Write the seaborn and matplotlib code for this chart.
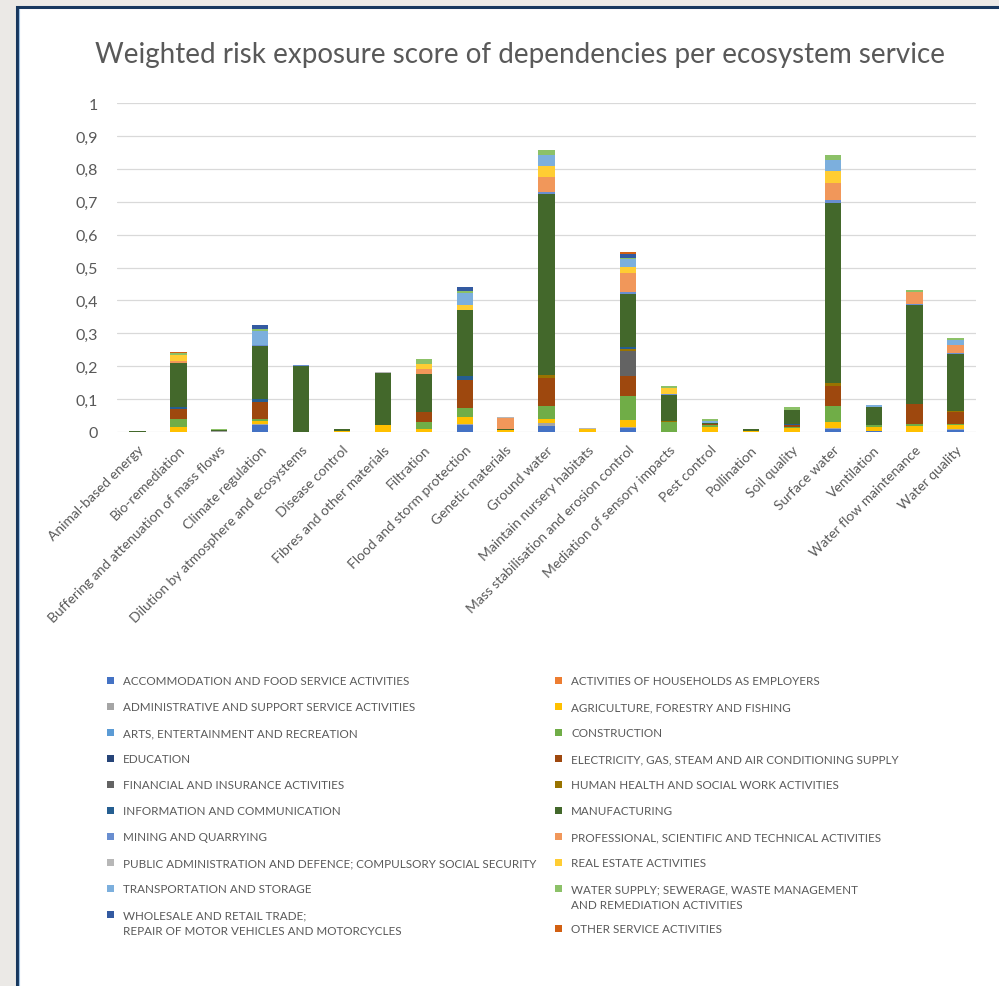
import numpy as np
import pandas as pd
import matplotlib
matplotlib.use("Agg")
import matplotlib.pyplot as plt
from matplotlib.patches import Rectangle
import seaborn as sns

# ---------------- data ----------------
services = [
    "Animal-based energy", "Bio-remediation", "Buffering and attenuation of mass flows",
    "Climate regulation", "Dilution by atmosphere and ecosystems", "Disease control",
    "Fibres and other materials", "Filtration", "Flood and storm protection",
    "Genetic materials", "Ground water", "Maintain nursery habitats",
    "Mass stabilisation and erosion control", "Mediation of sensory impacts",
    "Pest control", "Pollination", "Soil quality", "Surface water", "Ventilation",
    "Water flow maintenance", "Water quality",
]

sectors = [
    "ACCOMMODATION AND FOOD SERVICE ACTIVITIES",
    "ACTIVITIES OF HOUSEHOLDS AS EMPLOYERS",
    "ADMINISTRATIVE AND SUPPORT SERVICE ACTIVITIES",
    "AGRICULTURE, FORESTRY AND FISHING",
    "ARTS, ENTERTAINMENT AND RECREATION",
    "CONSTRUCTION",
    "EDUCATION",
    "ELECTRICITY, GAS, STEAM AND AIR CONDITIONING SUPPLY",
    "FINANCIAL AND INSURANCE ACTIVITIES",
    "HUMAN HEALTH AND SOCIAL WORK ACTIVITIES",
    "INFORMATION AND COMMUNICATION",
    "MANUFACTURING",
    "MINING AND QUARRYING",
    "PROFESSIONAL, SCIENTIFIC AND TECHNICAL ACTIVITIES",
    "PUBLIC ADMINISTRATION AND DEFENCE; COMPULSORY SOCIAL SECURITY",
    "REAL ESTATE ACTIVITIES",
    "TRANSPORTATION AND STORAGE",
    "WATER SUPPLY; SEWERAGE, WASTE MANAGEMENT\nAND REMEDIATION ACTIVITIES",
    "WHOLESALE AND RETAIL TRADE;\nREPAIR OF MOTOR VEHICLES AND MOTORCYCLES",
    "OTHER SERVICE ACTIVITIES",
]

sector_colors = [
    "#4472C4", "#ED7D31", "#A5A5A5", "#FFC000", "#5B9BD5", "#70AD47", "#264478",
    "#9E480E", "#636363", "#997300", "#255E91", "#43682B", "#698ED0", "#F1975A",
    "#B7B7B7", "#FFCD33", "#7CAFDD", "#8CC168", "#335AA1", "#D26012",
]

# values per sector, one entry per ecosystem service (same order as `services`)
accommodation = [0, 0, 0, 0.021, 0, 0, 0, 0, 0.022, 0, 0.019, 0, 0.013, 0, 0, 0, 0, 0.009, 0.004, 0, 0.005]
households    = [0] * 21
administrative = [0, 0, 0.004, 0.004, 0, 0, 0, 0, 0.003, 0, 0.007, 0, 0.003, 0, 0, 0, 0, 0.004, 0, 0, 0.003]
agriculture   = [0, 0.014, 0, 0.007, 0, 0.004, 0.022, 0.010, 0.022, 0.006, 0.012, 0.010, 0.020, 0, 0.016, 0.004, 0.011, 0.018, 0.011, 0.017, 0.013]
arts          = [0] * 21
construction  = [0, 0.027, 0, 0.009, 0, 0, 0, 0.020, 0.025, 0, 0.042, 0, 0.073, 0.029, 0.004, 0, 0.005, 0.048, 0.005, 0.007, 0.002]
education     = [0] * 21
electricity   = [0, 0.030, 0, 0.050, 0, 0, 0, 0.031, 0.086, 0, 0.085, 0, 0.061, 0, 0.003, 0, 0.004, 0.060, 0, 0.060, 0.039]
financial     = [0, 0, 0, 0, 0, 0, 0, 0, 0, 0, 0, 0, 0.075, 0, 0, 0, 0, 0, 0, 0, 0]
health        = [0, 0, 0, 0, 0, 0, 0, 0, 0, 0, 0.009, 0, 0.007, 0.004, 0, 0, 0, 0.009, 0, 0.002, 0.002]
information   = [0, 0.006, 0, 0.010, 0, 0, 0, 0, 0.012, 0, 0, 0, 0.007, 0, 0, 0, 0.003, 0, 0, 0, 0]
manufacturing = [0.003, 0.134, 0.001, 0.159, 0.202, 0.006, 0.158, 0.114, 0.200, 0.002, 0.549, 0, 0.160, 0.080, 0.004, 0.005, 0.045, 0.548, 0.057, 0.299, 0.174]
mining        = [0, 0, 0, 0.003, 0.002, 0, 0, 0, 0, 0, 0.008, 0, 0.006, 0.002, 0, 0, 0, 0.010, 0, 0.004, 0.003]
professional  = [0, 0.004, 0, 0, 0, 0, 0, 0.018, 0, 0.036, 0.045, 0, 0.059, 0, 0, 0, 0, 0.052, 0, 0.036, 0.023]
public_admin  = [0, 0, 0.002, 0, 0, 0, 0.001, 0, 0, 0.001, 0, 0.001, 0, 0, 0, 0, 0, 0, 0, 0, 0]
real_estate   = [0, 0.019, 0, 0, 0, 0, 0, 0.015, 0.016, 0, 0.031, 0, 0.019, 0.020, 0, 0, 0, 0.035, 0, 0, 0]
transportation = [0, 0, 0, 0.044, 0, 0, 0, 0, 0.038, 0, 0.035, 0, 0.023, 0, 0.006, 0, 0, 0.034, 0.006, 0, 0.016]
water_supply  = [0, 0.005, 0.001, 0.005, 0, 0, 0, 0.014, 0.005, 0, 0.014, 0, 0.003, 0.004, 0.006, 0, 0.007, 0.014, 0, 0.008, 0.006]
wholesale     = [0, 0, 0, 0.014, 0, 0, 0, 0, 0.013, 0, 0, 0, 0.011, 0, 0, 0, 0, 0, 0, 0, 0]
other_service = [0, 0.005, 0, 0, 0, 0, 0, 0, 0, 0, 0, 0, 0.006, 0, 0, 0, 0, 0, 0, 0, 0]

series_values = [
    accommodation, households, administrative, agriculture, arts, construction,
    education, electricity, financial, health, information, manufacturing, mining,
    professional, public_admin, real_estate, transportation, water_supply,
    wholesale, other_service,
]

y_ticks = [0, 0.1, 0.2, 0.3, 0.4, 0.5, 0.6, 0.7, 0.8, 0.9, 1.0]
y_tick_labels = ["0", "0,1", "0,2", "0,3", "0,4", "0,5", "0,6", "0,7", "0,8", "0,9", "1"]

title = "Weighted risk exposure score of dependencies per ecosystem service"

# ---------------- figure ----------------
W, H = 999, 987
sns.set_theme(style="white")
FONT = ["Lato", "DejaVu Sans"]
plt.rcParams["font.family"] = FONT
TXT = "#595959"

fig = plt.figure(figsize=(W / 100, H / 100), dpi=100)
fig.patch.set_facecolor("#EBE9E6")

def fx(px):
    return px / W

def fy(py):
    return 1 - py / H

# white panel with navy border
panel = Rectangle((fx(16.5), fy(1100)), fx(1200), (1100 - 8) / H,
                  transform=fig.transFigure, facecolor="white",
                  edgecolor="#17375E", linewidth=2.2, zorder=-10)
fig.patches.append(panel)
fig.add_artist(plt.Line2D([fx(18.8), fx(18.8)], [0, fy(9.5)], transform=fig.transFigure,
                          color="#9DC3E6", linewidth=0.8, zorder=-9))

ax = fig.add_axes([fx(117), fy(433), fx(976) - fx(117), (433 - 104) / H])
ax.set_facecolor("none")
ax.set_zorder(1)

df = pd.DataFrame({name: vals for name, vals in zip(sectors, series_values)})
df.insert(0, "service", services)
cum = df[sectors].cumsum(axis=1)

# draw cumulative totals from the top series downward so the stacks show
for name, col in reversed(list(zip(sectors, sector_colors))):
    sns.barplot(x=df["service"], y=cum[name], color=col, saturation=1,
                width=0.4, errorbar=None, linewidth=0, ax=ax, zorder=3)

ax.set_ylim(0, 1)
ax.set_xlim(-0.5, len(services) - 0.5)
ax.set_yticks(y_ticks)
ax.set_yticklabels(y_tick_labels, fontsize=11.5, color=TXT)
ax.grid(axis="y", color="#D9D9D9", linewidth=0.9, zorder=0)
ax.grid(axis="x", visible=False)
ax.set_axisbelow(True)
for s in ax.spines.values():
    s.set_visible(False)
ax.tick_params(axis="y", length=0, pad=13.5)
ax.tick_params(axis="x", length=0, pad=8)
ax.set_xlabel("")
ax.set_ylabel("")
ax.set_xticks(range(len(services)))
ax.set_xticklabels(services, rotation=45, ha="right", va="top",
                   rotation_mode="anchor", fontsize=10, color=TXT)

fig.text(fx(520), fy(55), title, ha="center", va="center", fontsize=20,
         color=TXT)

# legend (two columns, Excel style)
left_items = list(range(0, 20, 2))
right_items = list(range(1, 20, 2))
for items, mx, tx in ((left_items, 110.5, 123), (right_items, 558.5, 571)):
    ycur = 681.5
    for i in items:
        lines = sectors[i].split("\n")
        fig.patches.append(Rectangle((fx(mx - 3.5), fy(ycur + 3.5)), fx(7), 7 / H,
                                     transform=fig.transFigure,
                                     facecolor=sector_colors[i], edgecolor="none"))
        for k, line in enumerate(lines):
            fig.text(fx(tx), fy(ycur + 16 * k), line, ha="left", va="center",
                     fontsize=8.4, color=TXT)
        ycur += 26 + 16 * (len(lines) - 1) - (2 if len(lines) > 1 else 0)

fig.savefig("out.png", dpi=100)
